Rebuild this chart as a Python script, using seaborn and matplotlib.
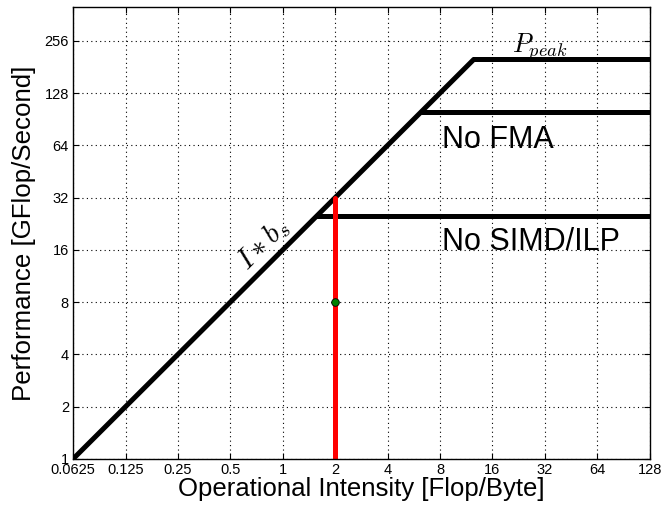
import matplotlib

matplotlib.use("Agg")

import matplotlib.pyplot as plt
import pandas as pd
import seaborn as sns
from matplotlib.ticker import FixedLocator, FixedFormatter, NullLocator

# roofline model values (GFlop/s and GB/s)
BANDWIDTH = 16.0
CEILING_NAMES = ["$P_{peak}$", "No FMA", "No SIMD/ILP"]
CEILING_VALUES = [200.0, 100.0, 25.0]
X_MIN, X_MAX = 0.0625, 128.0
Y_MIN, Y_MAX = 1.0, 400.0

# measured kernel
KERNEL_INTENSITY = [2.0]
KERNEL_PERF = [8.0]

X_TICKS = [0.0625, 0.125, 0.25, 0.5, 1, 2, 4, 8, 16, 32, 64, 128]
X_TICK_LABELS = ["0.0625", "0.125", "0.25", "0.5", "1", "2", "4", "8", "16", "32", "64", "128"]
Y_TICKS = [1, 2, 4, 8, 16, 32, 64, 128, 256]
Y_TICK_LABELS = ["1", "2", "4", "8", "16", "32", "64", "128", "256"]

sns.set_style("ticks")
plt.rcParams["font.family"] = ["Liberation Sans", "DejaVu Sans"]
plt.rcParams["mathtext.fontset"] = "cm"
plt.rcParams["text.color"] = "black"
plt.rcParams["axes.labelcolor"] = "black"
plt.rcParams["xtick.color"] = "black"
plt.rcParams["ytick.color"] = "black"

fig = plt.figure(figsize=(6.65, 5.11), dpi=100)
ax = fig.add_axes([0.110, 0.102, 0.867, 0.884])

# memory roof up to the top ceiling
peak = max(CEILING_VALUES)
roof = pd.DataFrame({"x": [X_MIN, peak / BANDWIDTH], "y": [X_MIN * BANDWIDTH, peak]})
sns.lineplot(data=roof, x="x", y="y", ax=ax, color="black", linewidth=3.6, estimator=None)

# compute ceilings
for value in CEILING_VALUES:
    ceiling = pd.DataFrame({"x": [value / BANDWIDTH, X_MAX], "y": [value, value]})
    sns.lineplot(data=ceiling, x="x", y="y", ax=ax, color="black", linewidth=3.6, estimator=None)

# kernel position and its bound
bound = pd.DataFrame({"x": [KERNEL_INTENSITY[0]] * 2, "y": [Y_MIN, KERNEL_INTENSITY[0] * BANDWIDTH]})
sns.lineplot(data=bound, x="x", y="y", ax=ax, color="red", linewidth=3.6, estimator=None)
sns.scatterplot(x=KERNEL_INTENSITY, y=KERNEL_PERF, ax=ax, color="green", edgecolor="black",
                s=30, linewidth=0.6, zorder=5)

ax.set_xscale("log", base=2)
ax.set_yscale("log", base=2)
ax.set_xlim(X_MIN, X_MAX)
ax.set_ylim(Y_MIN, Y_MAX)
ax.xaxis.set_major_locator(FixedLocator(X_TICKS))
ax.xaxis.set_major_formatter(FixedFormatter(X_TICK_LABELS))
ax.yaxis.set_major_locator(FixedLocator(Y_TICKS))
ax.yaxis.set_major_formatter(FixedFormatter(Y_TICK_LABELS))
ax.xaxis.set_minor_locator(NullLocator())
ax.yaxis.set_minor_locator(NullLocator())
ax.tick_params(direction="in", top=True, right=True, length=4, width=0.8, labelsize=10.5, pad=3)
ax.grid(True, linestyle=(0, (1, 3)), color="black", linewidth=0.8)
for spine in ax.spines.values():
    spine.set_linewidth(1.0)
    spine.set_color("black")

ax.set_xlabel("Operational Intensity [Flop/Byte]", fontsize=18.5, labelpad=0)
ax.set_ylabel("Performance [GFlop/Second]", fontsize=18.6, labelpad=6)

# labels
ax.text(20.7, 218, CEILING_NAMES[0], fontsize=19, va="baseline")
ax.text(8.2, 62, CEILING_NAMES[1], fontsize=22, va="baseline")
ax.text(8.2, 16, CEILING_NAMES[2], fontsize=22, va="baseline")
ax.text(0.77, 17.2, "$I * b_s$", fontsize=21, rotation=45, ha="center", va="center")

fig.savefig("out.png", dpi=100)
